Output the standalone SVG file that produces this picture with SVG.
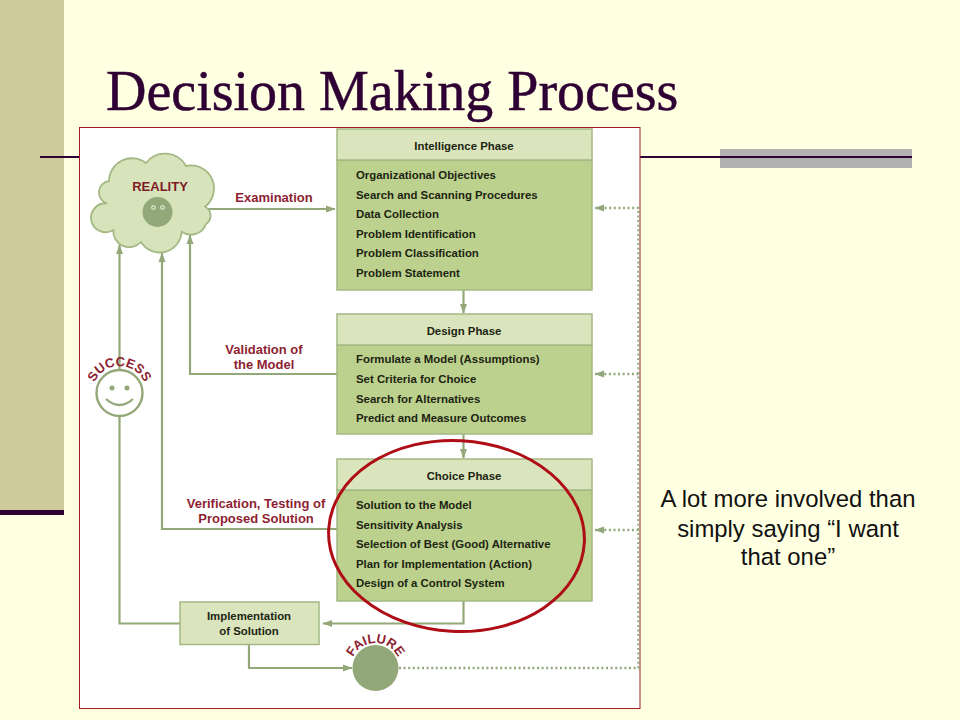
<svg xmlns="http://www.w3.org/2000/svg" width="960" height="720" viewBox="0 0 960 720">
<style>
.body{fill:#bcd18d;stroke:#a3b883;stroke-width:1.5}
.head{fill:#dbe5bd;stroke:#a3b883;stroke-width:1.5}
.t{font-family:"Liberation Sans",Arial,sans-serif;font-weight:700;font-size:11.4px;fill:#1c2412}
.c{text-anchor:middle}
.r{font-family:"Liberation Sans",Arial,sans-serif;font-weight:700;font-size:13px;fill:#8e1f33;text-anchor:middle}
.ln{fill:none;stroke:#93a878;stroke-width:2.2}
.dot{fill:none;stroke:#93a878;stroke-width:2.4;stroke-dasharray:2 2.6}
.note{font-family:"Liberation Sans",Arial,sans-serif;font-size:23.9px;fill:#111;text-anchor:middle}
</style>
<defs>
<marker id="ah" markerUnits="userSpaceOnUse" markerWidth="10" markerHeight="10" refX="9" refY="5" orient="auto"><path d="M0 1.500L9.500 5L0 8.500z" fill="#93a878"/></marker>
<path id="arcS" d="M92.500 393A27 27 0 0 1 146.500 393"/>
<path id="arcF" d="M350.500 668A25 25 0 0 1 400.500 668"/>
</defs>
<rect width="960" height="720" fill="#ffffe1"/>
<rect x="0" y="0" width="64" height="510" fill="#cdcb9a"/>
<rect x="0" y="510" width="64" height="5" fill="#2e0033"/>
<rect x="720" y="149" width="192" height="19" fill="#b0b0b0"/>
<rect x="40" y="156" width="872" height="2" fill="#2e0033"/>
<text x="106" y="110" font-family="'Liberation Serif','Times New Roman',serif" font-size="56px" fill="#2e0033" stroke="#2e0033" stroke-width=".5">Decision Making Process</text>
<rect id="panel" x="79.500" y="127.500" width="560.500" height="581" fill="#fff" stroke="#a01c22" stroke-width="1"/>

<g id="connectors">
<path class="ln" d="M208 209H335" marker-end="url(#ah)"/>
<path class="ln" d="M337 374H190V235" marker-end="url(#ah)"/>
<path class="ln" d="M337 529H162V253" marker-end="url(#ah)"/>
<path class="ln" d="M180 623.500H119.500V245" marker-end="url(#ah)"/>
<path class="ln" d="M463.500 290V313" marker-end="url(#ah)"/>
<path class="ln" d="M463.500 434V458" marker-end="url(#ah)"/>
<path class="ln" d="M463.500 601V623.500H323" marker-end="url(#ah)"/>
<path class="ln" d="M249 645V668H352" marker-end="url(#ah)"/>
<path class="dot" d="M399 668H638.500V208H595" marker-end="url(#ah)"/>
<path class="dot" d="M638.500 374H595" marker-end="url(#ah)"/>
<path class="dot" d="M638.500 530H595" marker-end="url(#ah)"/>
</g>

<g id="reality">
<path d="M106.700 203.300A11.500 11.500 0 0 1 109 181A23 23 0 0 1 146 163A24 24 0 0 1 186 166A23 23 0 0 1 205 206.700A10 10 0 0 1 206 224A16 16 0 0 1 181.700 231.700A22 22 0 0 1 141 242A16 16 0 0 1 113.300 230A14.500 14.500 0 1 1 106.700 203.300Z" fill="#d7e4bb" stroke="#a3b883" stroke-width="1.800" stroke-linejoin="round"/>
<text class="r" x="160" y="191" style="fill:#7e1a28">REALITY</text>
<circle cx="157.500" cy="212" r="15" fill="#93a878"/>
<circle cx="153.500" cy="207.500" r="1.800" fill="#93a878" stroke="#eef2df" stroke-width="1.100"/>
<circle cx="162.500" cy="207.500" r="1.800" fill="#93a878" stroke="#eef2df" stroke-width="1.100"/>
</g>

<g id="success">
<circle cx="119.500" cy="393" r="23" fill="#fff" stroke="#93a878" stroke-width="2.400"/>
<circle cx="112" cy="388" r="2.500" fill="#93a878"/>
<circle cx="127" cy="388" r="2.500" fill="#93a878"/>
<path d="M106 399Q119.500 411 133 399" fill="none" stroke="#93a878" stroke-width="2.200"/>
<text class="r"><textPath href="#arcS" startOffset="50%">SUCCESS</textPath></text>
</g>

<g id="intelligence">
<rect class="body" x="337" y="160" width="255" height="130"/>
<rect class="head" x="337" y="129" width="255" height="31"/>
<text class="t c" x="464" y="150">Intelligence Phase</text>
<text class="t" x="356" y="179">Organizational Objectives</text>
<text class="t" x="356" y="198.500">Search and Scanning Procedures</text>
<text class="t" x="356" y="218">Data Collection</text>
<text class="t" x="356" y="237.500">Problem Identification</text>
<text class="t" x="356" y="257">Problem Classification</text>
<text class="t" x="356" y="276.500">Problem Statement</text>
</g>

<g id="design">
<rect class="body" x="337" y="345" width="255" height="89"/>
<rect class="head" x="337" y="314" width="255" height="31"/>
<text class="t c" x="464" y="335">Design Phase</text>
<text class="t" x="356" y="363">Formulate a Model (Assumptions)</text>
<text class="t" x="356" y="383">Set Criteria for Choice</text>
<text class="t" x="356" y="402.500">Search for Alternatives</text>
<text class="t" x="356" y="422">Predict and Measure Outcomes</text>
</g>

<g id="choice">
<rect class="body" x="337" y="490" width="255" height="111"/>
<rect class="head" x="337" y="459" width="255" height="31"/>
<text class="t c" x="464" y="480">Choice Phase</text>
<text class="t" x="356" y="509">Solution to the Model</text>
<text class="t" x="356" y="528.500">Sensitivity Analysis</text>
<text class="t" x="356" y="548">Selection of Best (Good) Alternative</text>
<text class="t" x="356" y="567.500">Plan for Implementation (Action)</text>
<text class="t" x="356" y="587">Design of a Control System</text>
</g>

<g id="implementation">
<rect class="head" x="180" y="602" width="139" height="42.500"/>
<text class="t c" x="249" y="620">Implementation</text>
<text class="t c" x="249" y="635">of Solution</text>
</g>

<g id="failure">
<circle cx="375.500" cy="668" r="23" fill="#93a878"/>
<text class="r"><textPath href="#arcF" startOffset="50%">FAILURE</textPath></text>
</g>

<g id="labels">
<text class="r" x="274" y="202">Examination</text>
<text class="r" x="264" y="354">Validation of</text>
<text class="r" x="264" y="369">the Model</text>
<text class="r" x="256" y="508">Verification, Testing of</text>
<text class="r" x="256" y="523">Proposed Solution</text>
</g>

<ellipse id="highlight" cx="456.500" cy="536" rx="128" ry="95.500" fill="none" stroke="#ae0d16" stroke-width="3" transform="rotate(3 456.500 536)"/>

<g id="note">
<text class="note" x="788" y="507">A lot more involved than</text>
<text class="note" x="788" y="537">simply saying “I want</text>
<text class="note" x="788" y="565">that one”</text>
</g>
</svg>
